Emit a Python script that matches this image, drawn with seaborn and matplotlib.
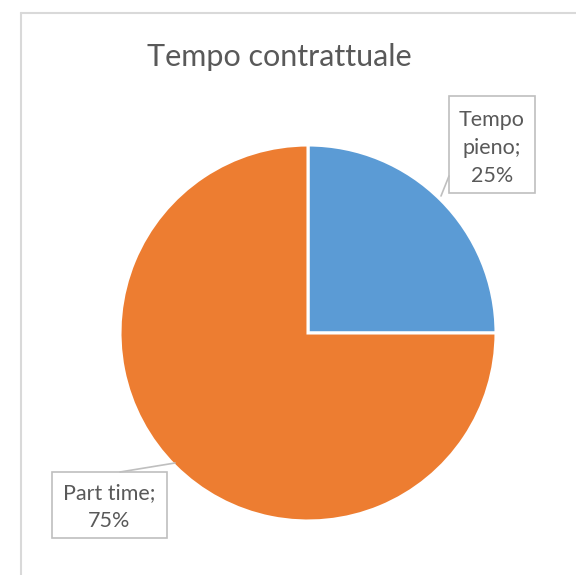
import matplotlib
matplotlib.use("Agg")
import matplotlib.pyplot as plt
import seaborn as sns
from matplotlib.patches import Rectangle
from matplotlib.lines import Line2D

categories = ["Tempo pieno", "Part time"]
values = [25, 75]
label_texts = ["Tempo\npieno;\n25%", "Part time;\n75%"]
title = "Tempo contrattuale"

sns.set_theme(style="white")
plt.rcParams['font.family'] = ['Lato', 'DejaVu Sans']

W, H = 576, 575
fig = plt.figure(figsize=(W / 100, H / 100), dpi=100)
ax = fig.add_axes([0, 0, 1, 1])

colors = ["#5B9BD5", "#ED7D31"]
cx, cy, r = 308, H - 333, 188
ax.pie(values, colors=colors, startangle=90, counterclock=False,
       center=(cx, cy), radius=r,
       wedgeprops=dict(edgecolor="white", linewidth=2.2))
ax.set_xlim(0, W)
ax.set_ylim(0, H)
ax.set_aspect("equal")
ax.axis("off")

# outer chart border (left & top visible)
gray = "#D9D9D9"
fig.add_artist(Line2D([21 / W, 21 / W], [0, 1 - 13 / H], color=gray, lw=1.5, transform=fig.transFigure))
fig.add_artist(Line2D([21 / W, 1], [1 - 13 / H, 1 - 13 / H], color=gray, lw=1.5, transform=fig.transFigure))

fig.text(279 / W, 1 - 57 / H, title, ha="center", va="center", fontsize=22, color="#595959")

tc = "#595959"
bc = "#BFBFBF"
# label box 1
ax.add_patch(Rectangle((449, H - 193), 86, 97, fill=False, edgecolor=bc, lw=1.2))
ax.plot([449, 441], [H - 176, H - 196], color=bc, lw=1.2)
ax.text(492, H - 148, label_texts[0], ha="center", va="center", fontsize=15.5,
        color=tc, linespacing=1.5)
# label box 2
ax.add_patch(Rectangle((52, H - 538), 115, 66, fill=False, edgecolor=bc, lw=1.2))
ax.plot([120, 175], [H - 472, H - 463], color=bc, lw=1.2)
ax.text(109.5, H - 507, label_texts[1], ha="center", va="center", fontsize=15.5,
        color=tc, linespacing=1.5)

fig.savefig("out.png", dpi=100, facecolor="white")
